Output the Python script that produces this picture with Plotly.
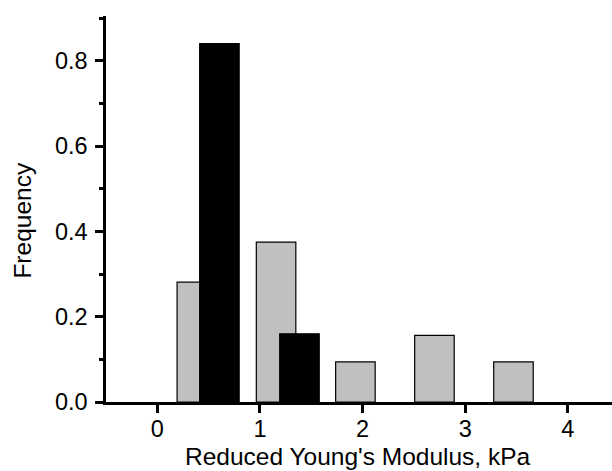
import plotly.graph_objects as go

# Data
gray_x = [0.385, 1.157, 1.93, 2.70, 3.47]
gray_freq = [0.281, 0.375, 0.094, 0.156, 0.094]
black_x = [0.605, 1.385]
black_freq = [0.84, 0.16]
bar_width = 0.385

x_ticks = [0, 1, 2, 3, 4]
y_ticks = [0.0, 0.2, 0.4, 0.6, 0.8]
y_tick_text = ["0.0", "0.2", "0.4", "0.6", "0.8"]
x_title = "Reduced Young's Modulus, kPa"
y_title = "Frequency"

FONT = "Liberation Sans, Arial, sans-serif"
FS_TICK = 23.5
FS_TITLE = 24.5

fig = go.Figure()
fig.add_trace(go.Bar(
    x=gray_x, y=gray_freq, width=bar_width,
    marker=dict(color="#c0c0c0", line=dict(color="black", width=1.2)),
    showlegend=False,
))
fig.add_trace(go.Bar(
    x=black_x, y=black_freq, width=bar_width,
    marker=dict(color="black", line=dict(color="black", width=1.2)),
    showlegend=False,
))

fig.update_layout(
    width=612, height=471,
    margin=dict(l=106, r=0, t=16, b=69),
    paper_bgcolor="white", plot_bgcolor="white",
    barmode="overlay",
    font=dict(family=FONT, size=FS_TICK, color="black"),
    xaxis=dict(
        range=[-0.5, 4.43],
        tickvals=x_ticks, ticktext=[str(v) for v in x_ticks],
        ticks="outside", ticklen=8, tickwidth=2.5, tickcolor="black",
        ticklabelstandoff=-4,
        showline=True, linewidth=2.5, linecolor="black",
        showgrid=False, zeroline=False,
        tickfont=dict(family=FONT, size=FS_TICK),
    ),
    yaxis=dict(
        range=[0, 0.905],
        tickvals=y_ticks, ticktext=y_tick_text,
        ticks="outside", ticklen=8, tickwidth=2.5, tickcolor="black",
        ticklabelstandoff=3,
        minor=dict(dtick=0.1, tick0=0, ticks="outside", ticklen=4,
                   tickwidth=2.5, tickcolor="black", showgrid=False),
        showline=True, linewidth=2.5, linecolor="black",
        showgrid=False, zeroline=False,
        tickfont=dict(family=FONT, size=FS_TICK),
    ),
    annotations=[
        dict(text=x_title, xref="paper", yref="paper", x=0.498, y=-0.142,
             xanchor="center", yanchor="middle", showarrow=False,
             font=dict(family=FONT, size=FS_TITLE, color="black")),
        dict(text=y_title, xref="paper", yref="paper", x=-0.164, y=0.47,
             xanchor="center", yanchor="middle", showarrow=False, textangle=-90,
             font=dict(family=FONT, size=FS_TITLE, color="black")),
    ],
)

fig.write_html("out.html")
